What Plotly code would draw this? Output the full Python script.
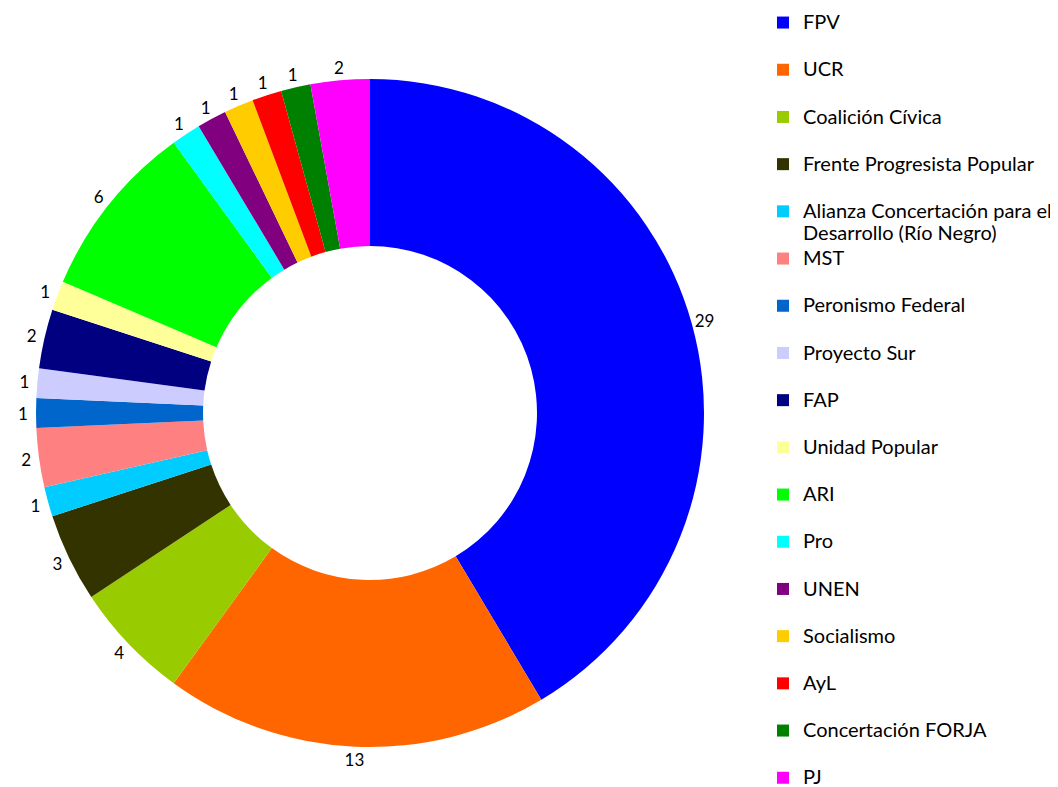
import plotly.graph_objects as go

parties = ["FPV", "UCR", "Coalición Cívica", "Frente Progresista Popular",
           "Alianza Concertación para el<br>Desarrollo (Río Negro)", "MST",
           "Peronismo Federal", "Proyecto Sur", "FAP", "Unidad Popular", "ARI",
           "Pro", "UNEN", "Socialismo", "AyL", "Concertación FORJA", "PJ"]
seats = [29, 13, 4, 3, 1, 2, 1, 1, 2, 1, 6, 1, 1, 1, 1, 1, 2]
colors = ["#0000FF", "#FF6600", "#99CC00", "#333300", "#00CCFF", "#FF8080",
          "#0066CC", "#CCCCFF", "#000080", "#FFFF99", "#00FF00", "#00FFFF",
          "#800080", "#FFCC00", "#FF0000", "#008000", "#FF00FF"]

LEG_SIZE = 20
LAB_SIZE = 17


def legend_label(p):
    lines = p.split("<br>")
    styled = [f"<span style='font-size:{LEG_SIZE}px'>{ln}</span>" for ln in lines]
    if len(styled) == 1:
        styled.append(" ")
    return "<br>".join(styled)


legend_labels = [legend_label(p) for p in parties]

W, H = 1058, 787
OFF = 8                    # page body margin offset
CX, CY = 370 - OFF, 413 - OFF   # pie centre in figure px (from top-left)
R_PIE = 334                # outer radius of the coloured ring
R_LAB = CX                 # outer radius of the invisible label ring
R_LAB_IN = 332             # inner radius of the invisible label ring


def dom(r):
    return dict(x=[max(0, (CX - r) / W), min(1, (CX + r) / W)],
                y=[max(0, (H - CY - r) / H), min(1, (H - CY + r) / H)])


fig = go.Figure()

# coloured donut
fig.add_trace(go.Pie(
    labels=legend_labels,
    values=seats,
    marker=dict(colors=colors, line=dict(width=0)),
    hole=0.5,
    sort=False,
    direction="clockwise",
    rotation=0,
    textinfo="none",
    hovertemplate="%{label}: %{value}<extra></extra>",
    domain=dom(R_PIE),
))

# transparent outer ring that carries the value labels just outside the donut
fig.add_trace(go.Pie(
    labels=legend_labels,
    values=seats,
    marker=dict(colors=["rgba(0,0,0,0)"] * len(seats), line=dict(width=0)),
    hole=R_LAB_IN / R_LAB,
    sort=False,
    direction="clockwise",
    rotation=0,
    textinfo="value",
    textposition="inside",
    insidetextorientation="horizontal",
    insidetextfont=dict(family="Lato", size=LAB_SIZE, color="#000000"),
    showlegend=False,
    hoverinfo="skip",
    domain=dom(R_LAB),
))

fig.update_layout(
    width=W, height=H,
    margin=dict(l=0, r=0, t=0, b=0, autoexpand=False),
    paper_bgcolor="white",
    plot_bgcolor="white",
    font=dict(family="Lato", size=17, color="#000000"),
    uniformtext=dict(minsize=LAB_SIZE, mode="show"),
    legend=dict(
        x=(763 - OFF) / W, xanchor="left",
        y=1 + 3 / H, yanchor="top",
        valign="top",
        font=dict(family="Lato", size=17, color="#000000"),
        bgcolor="rgba(0,0,0,0)",
        maxheight=900,
    ),
)

fig.write_html("out.html")
